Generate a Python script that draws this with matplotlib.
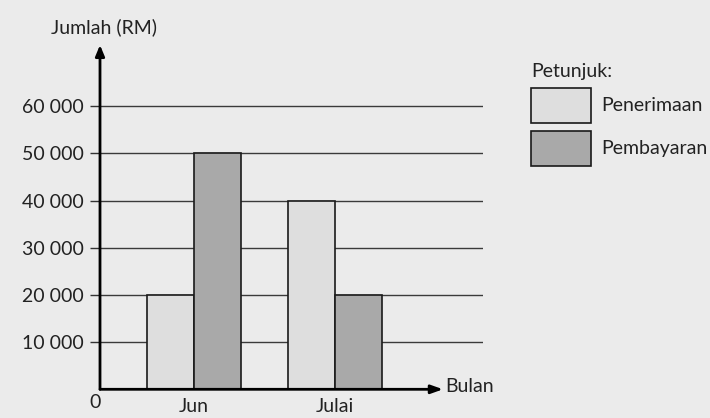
import matplotlib
matplotlib.use("Agg")
import matplotlib.pyplot as plt
import numpy as np

months = ["Jun", "Julai"]
series_names = ["Penerimaan", "Pembayaran"]
penerimaan = [20000, 40000]
pembayaran = [50000, 20000]
yticks = [10000, 20000, 30000, 40000, 50000, 60000]
ytick_labels = ["10 000", "20 000", "30 000", "40 000", "50 000", "60 000"]

plt.rcParams['font.family'] = ['Lato', 'DejaVu Sans']

W, H = 710, 418
fig = plt.figure(figsize=(W / 100, H / 100), dpi=100, facecolor="#ebebeb")

x0_px, x1_px = 100, 483
y0_px, y1_px = 389.3, 45
ax = fig.add_axes([x0_px / W, (H - y0_px) / H, (x1_px - x0_px) / W, (y0_px - y1_px) / H])
ax.set_facecolor("none")

x = np.arange(1, len(months) + 1)
bw = 1 / 3
px_per_unit = 141.0
xl = 1 - (194 - x0_px) / px_per_unit
xr = 1 + (x1_px - 194) / px_per_unit
ax.set_xlim(xl, xr)
ytop = (y0_px - y1_px) / 47.2 * 10000
ax.set_ylim(0, ytop)

b1 = ax.bar(x - bw / 2, penerimaan, bw, color="#dedede", edgecolor="#1a1a1a", linewidth=1.2, zorder=3,
            label=series_names[0])
b2 = ax.bar(x + bw / 2, pembayaran, bw, color="#a9a9a9", edgecolor="#1a1a1a", linewidth=1.2, zorder=3,
            label=series_names[1])

for s in ax.spines.values():
    s.set_visible(False)

FS = 14
ax.set_yticks(yticks)
ax.set_yticklabels(ytick_labels, fontsize=FS, color="#222222")
ax.tick_params(axis="y", length=7.5, width=1.0, color="#333333", pad=4)
ax.yaxis.grid(True, color="#3a3a3a", linewidth=1.0, zorder=1)
ax.set_axisbelow(True)

ax.set_xticks(x)
ax.set_xticklabels(months, fontsize=FS, color="#222222")
ax.tick_params(axis="x", length=0, pad=6)

# axes arrows
ax.annotate("", xy=(1 + (443 - 194) / px_per_unit, 0), xytext=(xl, 0), xycoords="data",
            arrowprops=dict(arrowstyle="-|>,head_length=0.7,head_width=0.25", lw=2, color="black",
                            shrinkA=0, shrinkB=0), annotation_clip=False, zorder=5)
ax.annotate("", xy=(0, 1), xytext=(0, 0), xycoords="axes fraction",
            arrowprops=dict(arrowstyle="-|>,head_length=0.65,head_width=0.27", lw=2, color="black",
                            shrinkA=0, shrinkB=0), annotation_clip=False, zorder=5)

fig.text(104 / W, 1 - 27 / H, "Jumlah (RM)", fontsize=FS, ha="center", va="center", color="#222222")
fig.text(95 / W, 1 - 403 / H, "0", fontsize=FS, ha="center", va="center", color="#222222")
fig.text(445 / W, 1 - 387 / H, "Bulan", fontsize=FS, ha="left", va="center", color="#222222")

leg = fig.legend(handles=[b1, b2], labels=series_names, title="Petunjuk:", loc="upper left",
                 bbox_to_anchor=(531 / W, 1 - 63 / H), frameon=False, fontsize=FS, title_fontsize=FS,
                 handlelength=3.1, handleheight=2.4, handletextpad=0.5, labelspacing=0.4,
                 alignment="left", borderaxespad=0, borderpad=0)
for t in leg.get_texts():
    t.set_color("#222222")
leg.get_title().set_color("#222222")

fig.savefig("out.png", dpi=100, facecolor=fig.get_facecolor())
